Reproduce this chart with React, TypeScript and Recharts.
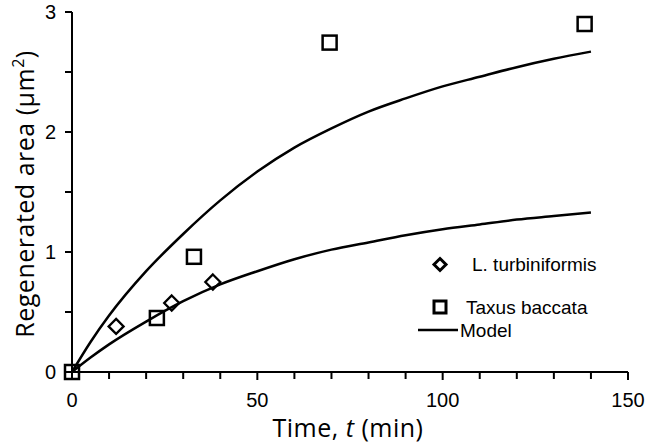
import React from 'react';
import { ComposedChart, Line, Scatter, XAxis, YAxis, Legend, Label } from 'recharts';

// readings (time in min, area in um^2)
const lTurbTime = [11.9, 26.9, 38.0];
const lTurbArea = [0.38, 0.575, 0.75];
const taxusTime = [0, 22.9, 32.9, 69.5, 138.3];
const taxusArea = [0, 0.45, 0.96, 2.745, 2.9];
const modelTime = [0, 5, 10, 20, 30, 40, 50, 60, 70, 80, 90, 100, 110, 120, 130, 140];
const modelUpper = [0, 0.25, 0.47, 0.84, 1.15, 1.43, 1.67, 1.87, 2.03, 2.17, 2.28, 2.38, 2.46, 2.54, 2.61, 2.67];
const modelLower = [0, 0.12, 0.23, 0.42, 0.59, 0.73, 0.84, 0.94, 1.02, 1.08, 1.14, 1.19, 1.23, 1.27, 1.3, 1.33];

const xTicks = [0, 10, 20, 30, 40, 50, 60, 70, 80, 90, 100, 110, 120, 130, 140, 150];
const yTicks = [0, 0.5, 1, 1.5, 2, 2.5, 3];
const xLabelTicks = [0, 50, 100, 150];
const yLabelTicks = [0, 1, 2, 3];

const lTurbData = lTurbTime.map((t, i) => ({ t, a: lTurbArea[i] }));
const taxusData = taxusTime.map((t, i) => ({ t, a: taxusArea[i] }));
const upperData = modelTime.map((t, i) => ({ t, a: modelUpper[i] }));
const lowerData = modelTime.map((t, i) => ({ t, a: modelLower[i] }));

const tickFont = '"Liberation Sans", Arial, sans-serif';
const titleFont = '"Open Sans", sans-serif';

const XTick = (props: any) => {
  const { x, y, payload } = props;
  const major = xLabelTicks.includes(payload.value);
  return (
    <g>
      <line x1={x} y1={y} x2={x} y2={y + (major ? 8 : 7)} stroke="#000" strokeWidth={2} />
      {major && (
        <text x={x} y={y + 35} textAnchor="middle" fontSize={20} fontFamily={tickFont} fill="#000">
          {payload.value}
        </text>
      )}
    </g>
  );
};

const YTick = (props: any) => {
  const { x, y, payload } = props;
  const major = yLabelTicks.includes(payload.value);
  return (
    <g>
      <line x1={x} y1={y} x2={x - 7} y2={y} stroke="#000" strokeWidth={2} />
      {major && (
        <text x={x - 16} y={y + 7} textAnchor="end" fontSize={20} fontFamily={tickFont} fill="#000">
          {payload.value}
        </text>
      )}
    </g>
  );
};

const square = (props: any) => (
  <rect x={props.cx - 7} y={props.cy - 7} width={14} height={14} fill="none" stroke="#000" strokeWidth={2.5} />
);

const diamond = (props: any) => {
  const { cx, cy } = props;
  return (
    <path
      d={`M${cx} ${cy - 7.5} L${cx + 7.5} ${cy} L${cx} ${cy + 7.5} L${cx - 7.5} ${cy} Z`}
      fill="none"
      stroke="#000"
      strokeWidth={2.3}
    />
  );
};

const renderLegend = () => (
  <svg width={220} height={100} style={{ display: 'block' }}>
    <path d="M30 8.5 L36 14.5 L30 20.5 L24 14.5 Z" fill="none" stroke="#000" strokeWidth={3} />
    <text x={62} y={21} fontSize={19} fontFamily={tickFont} fill="#000">L. turbiniformis</text>
    <rect x={24} y={51} width={12} height={12} fill="none" stroke="#000" strokeWidth={3} />
    <text x={56} y={64} fontSize={19} fontFamily={tickFont} fill="#000">Taxus baccata</text>
    <line x1={8} y1={80} x2={48} y2={80} stroke="#000" strokeWidth={2.5} />
    <text x={50} y={87} fontSize={19} fontFamily={tickFont} fill="#000">Model</text>
  </svg>
);

const XTitle = (props: any) => {
  const { x, width, y } = props.viewBox;
  return (
    <text x={x + width / 2 - 2} y={y + 65} textAnchor="middle" fontSize={25} fontFamily={titleFont} letterSpacing={0.5} fill="#000">
      Time, <tspan fontStyle="italic">t</tspan> (min)
    </text>
  );
};

const YTitle = (props: any) => {
  const { y, height } = props.viewBox;
  const cx = 34;
  const cy = y + height / 2 + 2;
  return (
    <text
      x={cx}
      y={cy}
      transform={`rotate(-90, ${cx}, ${cy})`}
      textAnchor="middle"
      fontSize={25}
      fontFamily={titleFont}
      letterSpacing={0.5}
      fill="#000"
    >
      Regenerated area (μm<tspan fontSize={16} dy={-10}>2</tspan><tspan dy={10}>)</tspan>
    </text>
  );
};

export default function App() {
  return (
    <div style={{ position: 'absolute', left: 0, top: 0, width: 649, height: 447, background: '#fff' }}>
      <ComposedChart width={649} height={447} margin={{ top: 12, right: 21, bottom: 0, left: 0 }}>
        <XAxis
          dataKey="t"
          type="number"
          domain={[0, 150]}
          ticks={xTicks}
          interval={0}
          height={75}
          tickLine={false}
          tickSize={0}
          tickMargin={0}
          tick={<XTick />}
          axisLine={{ stroke: '#000', strokeWidth: 2 }}
        >
          <Label content={<XTitle />} />
        </XAxis>
        <YAxis
          type="number"
          domain={[0, 3]}
          ticks={yTicks}
          interval={0}
          width={72}
          tickLine={false}
          tickSize={0}
          tickMargin={0}
          tick={<YTick />}
          axisLine={{ stroke: '#000', strokeWidth: 2 }}
        >
          <Label content={<YTitle />} />
        </YAxis>
        <Line data={upperData} dataKey="a" type="monotone" stroke="#000" strokeWidth={2.5} dot={false} isAnimationActive={false} />
        <Line data={lowerData} dataKey="a" type="monotone" stroke="#000" strokeWidth={2.5} dot={false} isAnimationActive={false} />
        <Scatter data={lTurbData} dataKey="a" shape={diamond} isAnimationActive={false} />
        <Scatter data={taxusData} dataKey="a" shape={square} isAnimationActive={false} />
        <Legend
          layout="vertical"
          align="center"
          verticalAlign="middle"
          content={renderLegend}
          wrapperStyle={{ position: 'absolute', left: 410, top: 250, width: 220, height: 100 }}
        />
      </ComposedChart>
    </div>
  );
}
